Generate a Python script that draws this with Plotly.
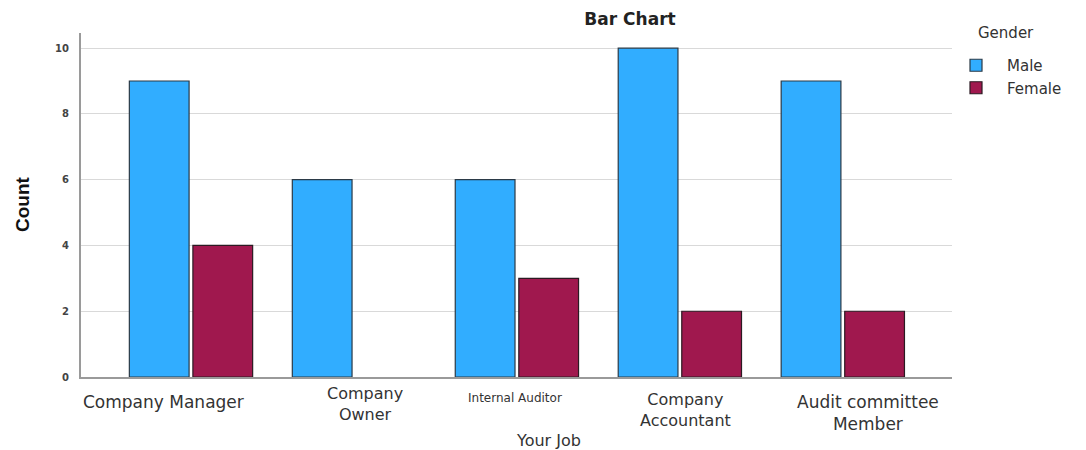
import plotly.graph_objects as go

categories = ["Company Manager", "Company Owner", "Internal Auditor",
              "Company Accountant", "Audit committee Member"]
tick_labels = ["Company Manager", "Company<br>Owner", "Internal Auditor",
               "Company<br>Accountant", "Audit committee<br>Member"]
male_counts = [9, 6, 6, 10, 9]
female_counts = [4, 0, 3, 2, 2]
y_ticks = [0, 2, 4, 6, 8, 10]

W, H = 1086, 450
L, R, T, B = 81, 134, 33, 73
pw, ph = W - L - R, H - T - B

def px_x(x):
    return (x - L) / pw

def px_y(y):
    return (H - B - y) / ph

def outline_widths(vals):
    return [1.2 if v > 0 else 0 for v in vals]

fig = go.Figure()
fig.add_trace(go.Bar(name="Male", x=categories, y=male_counts,
                     marker=dict(color="#31adff",
                                 line=dict(color="#2b3a47", width=outline_widths(male_counts)))))
fig.add_trace(go.Bar(name="Female", x=categories, y=female_counts,
                     marker=dict(color="#a0184e",
                                 line=dict(color="#2b1a22", width=outline_widths(female_counts)))))

TXT = "#333333"
label_style = [
    dict(dx=-28, y=402, size=17),
    dict(dx=11, y=404, size=16),
    dict(dx=-2, y=398, size=12),
    dict(dx=6, y=410, size=16),
    dict(dx=25, y=413, size=17),
]
for cat, txt, st in zip(categories, tick_labels, label_style):
    fig.add_annotation(x=cat, xref="x", y=px_y(st["y"]), yref="paper",
                       text=txt, showarrow=False, xshift=st["dx"],
                       xanchor="center", yanchor="middle",
                       font=dict(family="DejaVu Sans", size=st["size"], color=TXT),
                       align="center")

fig.add_annotation(x=px_x(548), xref="paper", y=px_y(441), yref="paper",
                   text="Your Job", showarrow=False, xanchor="center", yanchor="middle",
                   font=dict(family="DejaVu Sans", size=16, color=TXT))
fig.add_annotation(x=px_x(22), xref="paper", y=px_y(204), yref="paper",
                   text="<b>Count</b>", showarrow=False, textangle=-90,
                   xanchor="center", yanchor="middle",
                   font=dict(family="Liberation Sans Narrow, Arial Narrow, sans-serif",
                             size=19, color="#111111"))
fig.add_annotation(x=px_x(1006), xref="paper", y=px_y(33), yref="paper",
                   text="Gender", showarrow=False, xanchor="center", yanchor="middle",
                   font=dict(family="DejaVu Sans", size=15, color=TXT))

fig.update_layout(
    width=W, height=H,
    margin=dict(l=L, r=R, t=T, b=B, pad=0),
    paper_bgcolor="white", plot_bgcolor="white",
    barmode="group", bargap=0.22, bargroupgap=0.06,
    title=dict(text="<b>Bar Chart</b>", x=px_x(630), xref="paper", xanchor="center",
               y=1 - 19 / H, yanchor="middle",
               font=dict(family="DejaVu Sans", size=17, color="#222222")),
    showlegend=True,
    legend=dict(x=px_x(945), xref="paper", y=px_y(49), yref="paper",
                xanchor="left", yanchor="top",
                font=dict(family="DejaVu Sans", size=15, color=TXT),
                tracegroupgap=0, itemwidth=52, bgcolor="rgba(0,0,0,0)"),
    xaxis=dict(range=[-0.675, 4.67], showticklabels=False, showgrid=False,
               showline=True, linecolor="#9a9a9a", linewidth=1.5, ticks="",
               zeroline=False, fixedrange=True),
    yaxis=dict(range=[0, 10.46], tickvals=y_ticks, ticktext=[str(v) for v in y_ticks],
               showgrid=True, gridcolor="#d9d9d9", gridwidth=1.3,
               showline=True, linecolor="#9a9a9a", linewidth=2,
               zeroline=False, ticks="", ticklabelstandoff=8,
               tickfont=dict(family="DejaVu Sans", size=10, color="#444444",
                             weight="bold")),
)

fig.write_html("out.html")
